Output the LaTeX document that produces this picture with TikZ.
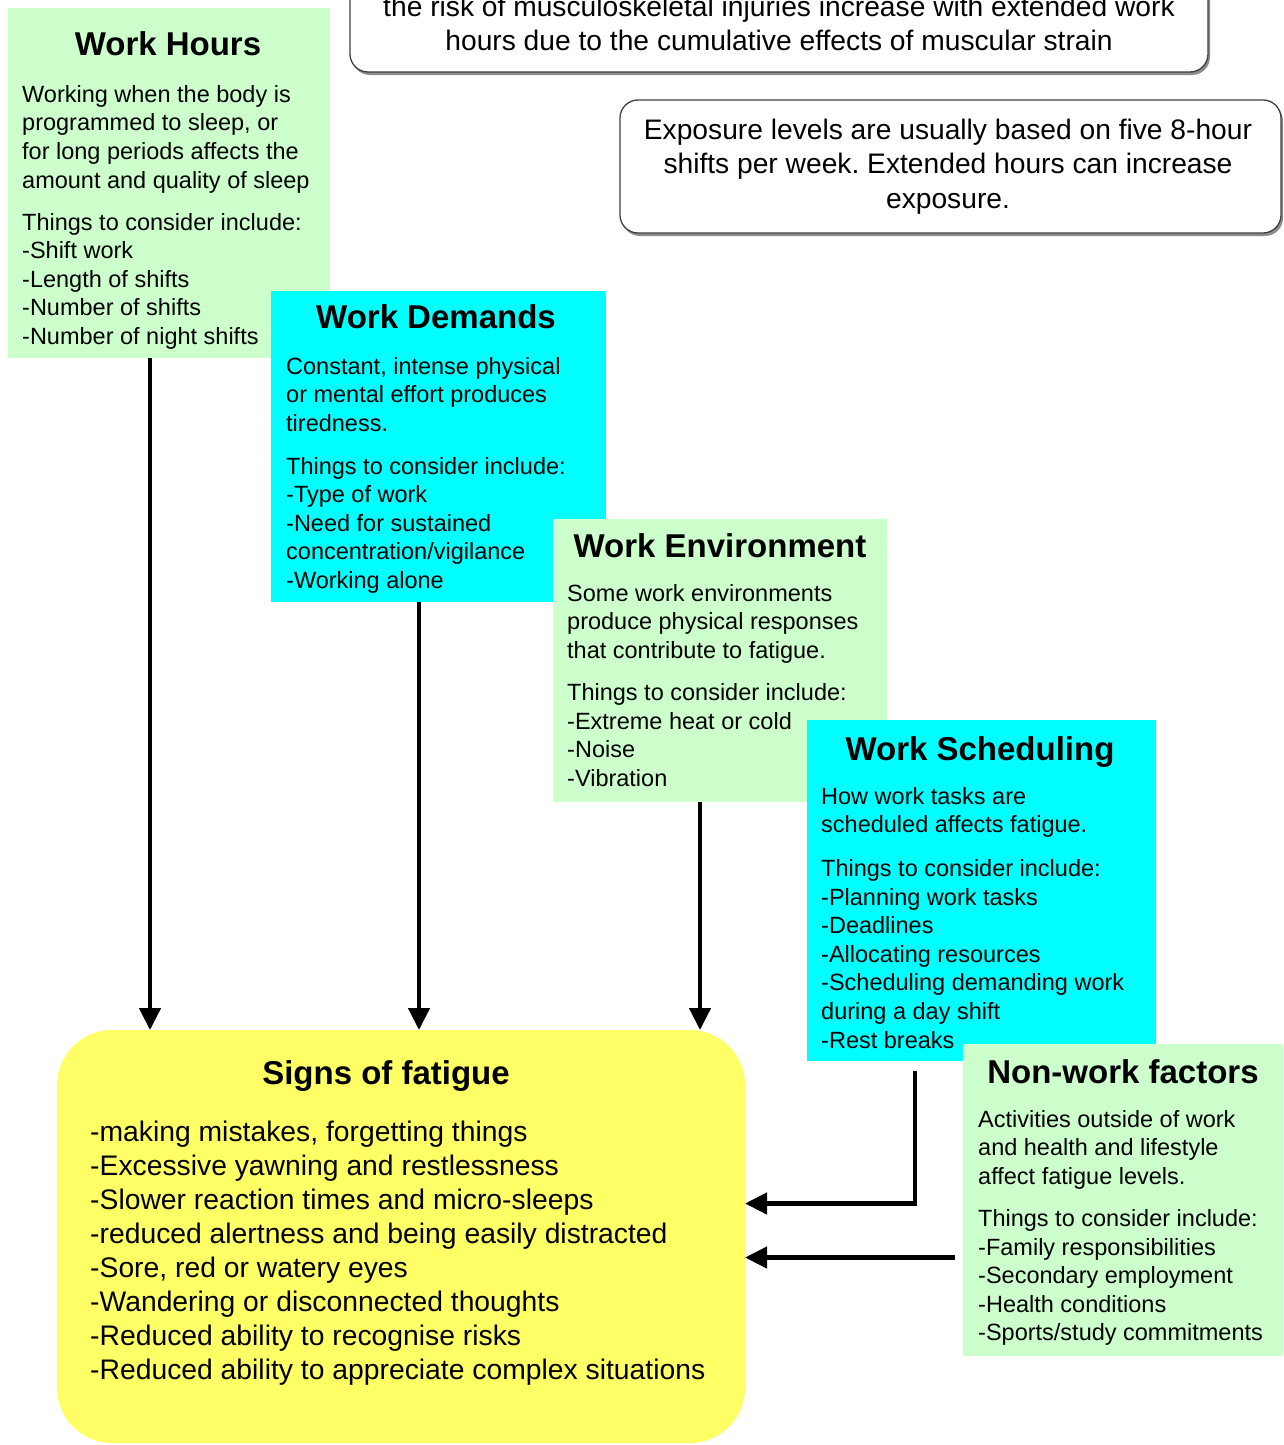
\documentclass[tikz,border=0pt]{standalone}
\usepackage{fontspec}
\setmainfont{Liberation Sans}
\usetikzlibrary{arrows.meta,shadows,calc}
\definecolor{boxgreen}{HTML}{CCFFCC}
\definecolor{boxcyan}{HTML}{00FFFF}
\definecolor{boxyellow}{HTML}{FFFF66}
\frenchspacing
\begin{document}
\begin{tikzpicture}[x=1pt,y=-1pt,
  box/.style={rectangle, inner sep=0pt, outer sep=0pt, draw=none, anchor=north west},
  ttl/.style={anchor=base, inner sep=0pt, font=\fontsize{33}{36}\selectfont\bfseries},
  bodytxt/.style={anchor=north west, inner sep=0pt, align=left, font=\fontsize{23.5}{28.6}\selectfont},
  signtxt/.style={anchor=north west, inner sep=0pt, align=left, font=\fontsize{28.3}{34}\selectfont},
  calltxt/.style={anchor=north, inner sep=0pt, align=center, font=\fontsize{28.2}{34.5}\selectfont},
  callout/.style={rectangle, draw=black!75, line width=1.3pt, rounded corners=18pt, fill=white,
    inner sep=0pt, outer sep=0pt, anchor=north west,
    drop shadow={shadow xshift=2pt, shadow yshift=-3pt, fill=black!45, opacity=1}},
  arr/.style={line width=4.5pt, -{Triangle[width=21pt,length=22pt]}, line join=miter}]
\useasboundingbox (0,0) rectangle (1283,1445);
\clip (0,0) rectangle (1283,1445);
\fill[white] (0,0) rectangle (1283,1445);

% callouts
\node[callout, minimum width=858pt, minimum height=112pt] (c1) at (350,-40) {};
\node[calltxt] (c1t) at (779,-8) {\strut the risk of musculoskeletal injuries increase with extended work\\ hours due to the cumulative effects of muscular strain};
\node[callout, minimum width=661pt, minimum height=133pt] (c2) at (620,100) {};
\node[calltxt] (c2t) at (948,115) {\strut Exposure levels are usually based on five 8-hour\\ shifts per week. Extended hours can increase\\ exposure.};

% Work Hours
\node[box, fill=boxgreen, minimum width=322pt, minimum height=350pt] (wh) at (8,8) {};
\node[ttl] (wht) at (168,56) {Work Hours};
\node[bodytxt] (whb) at (22,82) {\strut Working when the body is\\ programmed to sleep, or\\ for long periods affects the\\ amount and quality of sleep\\[13.5pt]
Things to consider include:\\ -Shift work\\ -Length of shifts\\ -Number of shifts\\ -Number of night shifts};

% Work Demands
\node[box, fill=boxcyan, minimum width=335pt, minimum height=311pt] (wd) at (271,291) {};
\node[ttl] (wdt) at (436,328) {Work Demands};
\node[bodytxt] (wdb) at (286,354) {\strut Constant, intense physical\\ or mental effort produces\\ tiredness.\\[14pt]
Things to consider include:\\ -Type of work\\ -Need for sustained\\ concentration/vigilance\\ -Working alone};

% Work Environment
\node[box, fill=boxgreen, minimum width=334pt, minimum height=283pt] (we) at (553,519) {};
\node[ttl] (wet) at (720,557) {Work Environment};
\node[bodytxt] (web) at (567,581) {\strut Some work environments\\ produce physical responses\\ that contribute to fatigue.\\[13.5pt]
Things to consider include:\\ -Extreme heat or cold\\ -Noise\\ -Vibration};

% Work Scheduling
\node[box, fill=boxcyan, minimum width=349pt, minimum height=341pt] (ws) at (807,720) {};
\node[ttl] (wst) at (980,760) {Work Scheduling};
\node[bodytxt] (wsb) at (821,784) {\strut How work tasks are\\ scheduled affects fatigue.\\[15pt]
Things to consider include:\\ -Planning work tasks\\ -Deadlines\\ -Allocating resources\\ -Scheduling demanding work\\ during a day shift\\ -Rest breaks};

% Non-work factors
\node[box, fill=boxgreen, minimum width=320pt, minimum height=312pt] (nw) at (963,1044) {};
\node[ttl] (nwt) at (1123,1083) {Non-work factors};
\node[bodytxt] (nwb) at (978,1107) {\strut Activities outside of work\\ and health and lifestyle\\ affect fatigue levels.\\[13.5pt]
Things to consider include:\\ -Family responsibilities\\ -Secondary employment\\ -Health conditions\\ -Sports/study commitments};

% Signs of fatigue
\node[box, fill=boxyellow, rounded corners=55pt, minimum width=688pt, minimum height=413pt] (sig) at (57,1030) {};
\node[ttl] (sigt) at (386,1084) {Signs of fatigue};
\node[signtxt] (sigb) at (90,1117) {\strut -making mistakes, forgetting things\\ -Excessive yawning and restlessness\\ -Slower reaction times and micro-sleeps\\ -reduced alertness and being easily distracted\\ -Sore, red or watery eyes\\ -Wandering or disconnected thoughts\\ -Reduced ability to recognise risks\\ -Reduced ability to appreciate complex situations};

% connectors
\coordinate (s1) at ([xshift=-19pt]wh.south);
\coordinate (s2) at ([xshift=-19.5pt]wd.south);
\coordinate (s3) at ([xshift=-20pt]we.south);
\coordinate (s4) at ([xshift=-66.5pt,yshift=-10pt]ws.south);
\coordinate (a1) at ([yshift=33pt]sig.east);
\coordinate (a2) at ([yshift=-21pt]sig.east);
\coordinate (n0) at ([xshift=-8pt]nw.west);
\draw[arr] (s1) -- (s1 |- sig.north);
\draw[arr] (s2) -- (s2 |- sig.north);
\draw[arr] (s3) -- (s3 |- sig.north);
\draw[arr] (s4) |- (a1);
\draw[arr] (n0 |- a2) -- (a2);
\end{tikzpicture}
\end{document}
